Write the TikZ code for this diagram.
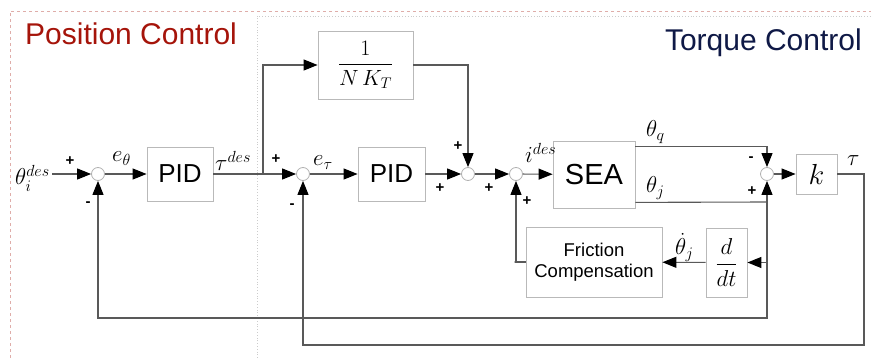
\RequirePackage{fix-cm}
\documentclass[tikz,border=0pt]{standalone}
\usepackage{amsmath}
\usepackage{fontspec}
\setsansfont{Liberation Sans}
\usetikzlibrary{arrows.meta,positioning}
\definecolor{posred}{RGB}{165,20,10}
\definecolor{trqblue}{RGB}{15,25,70}
\begin{document}
\begin{tikzpicture}[
  x=1pt, y=-1pt,
  blk/.style={draw=gray!55, line width=0.8pt, fill=white, inner sep=0pt},
  sum/.style={circle, draw=gray!60, line width=0.8pt, fill=white,
              minimum size=13pt, inner sep=0pt},
  sig/.style={font=\sffamily\bfseries\fontsize{15}{15}\selectfont, inner sep=0pt},
  lbl/.style={font=\fontsize{23}{25}\selectfont, inner sep=0pt},
  ttl/.style={font=\sffamily\fontsize{30}{31}\selectfont, inner sep=0pt},
  wire/.style={line width=1.1pt, draw=black!65},
  arr/.style={wire, -{Triangle[length=14pt,width=11pt,color=black]}}
]
\useasboundingbox (0,0) rectangle (871,358);
% regions
\draw[posred!35, dashed, line width=0.6pt] (10,358) -- (10,11) -- (871,11);
\draw[gray!40, dotted, line width=0.8pt] (257,358) -- (257,16) -- (871,16);
\node[ttl, text=posred, anchor=base west] at (25,45) {Position Control};
\node[ttl, text=trqblue, anchor=base east] at (862,51) {Torque Control};
% blocks
\node[blk, minimum width=66pt, minimum height=54pt,
      font=\sffamily\fontsize{26}{26}\selectfont] (pid1) at (180,174) {PID};
\node[blk, minimum width=67pt, minimum height=54pt,
      font=\sffamily\fontsize{26}{26}\selectfont] (pid2) at (391.5,174) {PID};
\node[blk, minimum width=95pt, minimum height=68pt,
      font=\fontsize{22}{24}\selectfont] (ff) at (365.5,65)
  {$\dfrac{1}{N\,K_T}$};
\node[blk, minimum width=82pt, minimum height=67pt,
      font=\sffamily\fontsize{29}{29}\selectfont] (sea) at (594,174.5) {SEA};
\node[blk, minimum width=41pt, minimum height=40pt,
      font=\fontsize{29}{29}\selectfont] (k) at (816.5,174) {$k$};
\node[blk, minimum width=41pt, minimum height=69pt,
      font=\fontsize{23}{25}\selectfont] (ddt) at (726.5,262.5)
  {$\dfrac{d}{dt}$};
\node[blk, minimum width=136pt, minimum height=70pt, align=center,
      font=\sffamily\fontsize{18.5}{21}\selectfont] (fric) at (594,262)
  {Friction\\Compensation};
% summing junctions
\node[sum] (s1) at (98,174) {};
\node[sum] (s2) at (303,174) {};
\node[sum] (s3) at (468,174) {};
\node[sum] (s4) at (516,174) {};
\node[sum] (s5) at (767,174) {};
% signals
\node[lbl, anchor=base west] (thdes) at (15,185) {$\theta_i^{des}$};
\node[lbl, anchor=base west] at (112,162) {$e_\theta$};
\node[lbl, anchor=base west] at (215,171) {$\tau^{des}$};
\node[lbl, anchor=base west] at (313,166) {$e_\tau$};
\node[lbl, anchor=base west] at (525,163) {$i^{des}$};
\node[lbl, anchor=base west] at (646,137) {$\theta_q$};
\node[lbl, anchor=base west] at (646,193) {$\theta_j$};
\node[lbl, anchor=base west] at (675,255) {$\dot\theta_j$};
\node[lbl, anchor=base west] at (847,166) {$\tau$};
% signs
\foreach \x/\y/\s in {70/161/+, 88/204/-, 276/159/+, 292/206/-,
                      458/146/+, 440/188/+, 489/188/+, 527/201/+,
                      751/159/-, 752/191/+}
  \node[sig] at (\x,\y) {\s};
% connectors
\coordinate (jt) at (263,174);
\coordinate (jq) at (767,202);
\coordinate (jd) at (767,262.5);
\coordinate (fb1) at (767,318);
\coordinate (tk) at (864,174);
\coordinate (fb2) at (864,345);
\draw[arr] (52,174) -- (s1);
\draw[arr] (s1) -- (pid1);
\draw[wire] (pid1) -- (jt);
\draw[arr] (jt) -- (s2);
\draw[arr] (jt) |- (ff.west);
\draw[arr] (ff.east) -| (s3.north);
\draw[arr] (s2) -- (pid2);
\draw[arr] (pid2) -- (s3);
\draw[arr] (s3) -- (s4);
\draw[arr] (s4) -- (sea);
\draw[arr] ([yshift=-6pt]sea.north east) -| (s5.north);
\draw[wire] ([yshift=6pt]sea.south east) -- (jq);
\draw[arr] (jq) -- (s5.south);
\draw[arr] (jd) -- (ddt.east);
\draw[arr] (ddt) -- (fric);
\draw[arr] (fric.west) -- ++(-11,0) -| (s4.south);
\draw[arr] (jq) -- (fb1) -| (s1.south);
\draw[arr] (s5) -- (k);
\draw[arr] (k.east) -- (tk) -- (fb2) -| (s2.south);
\end{tikzpicture}
\end{document}
